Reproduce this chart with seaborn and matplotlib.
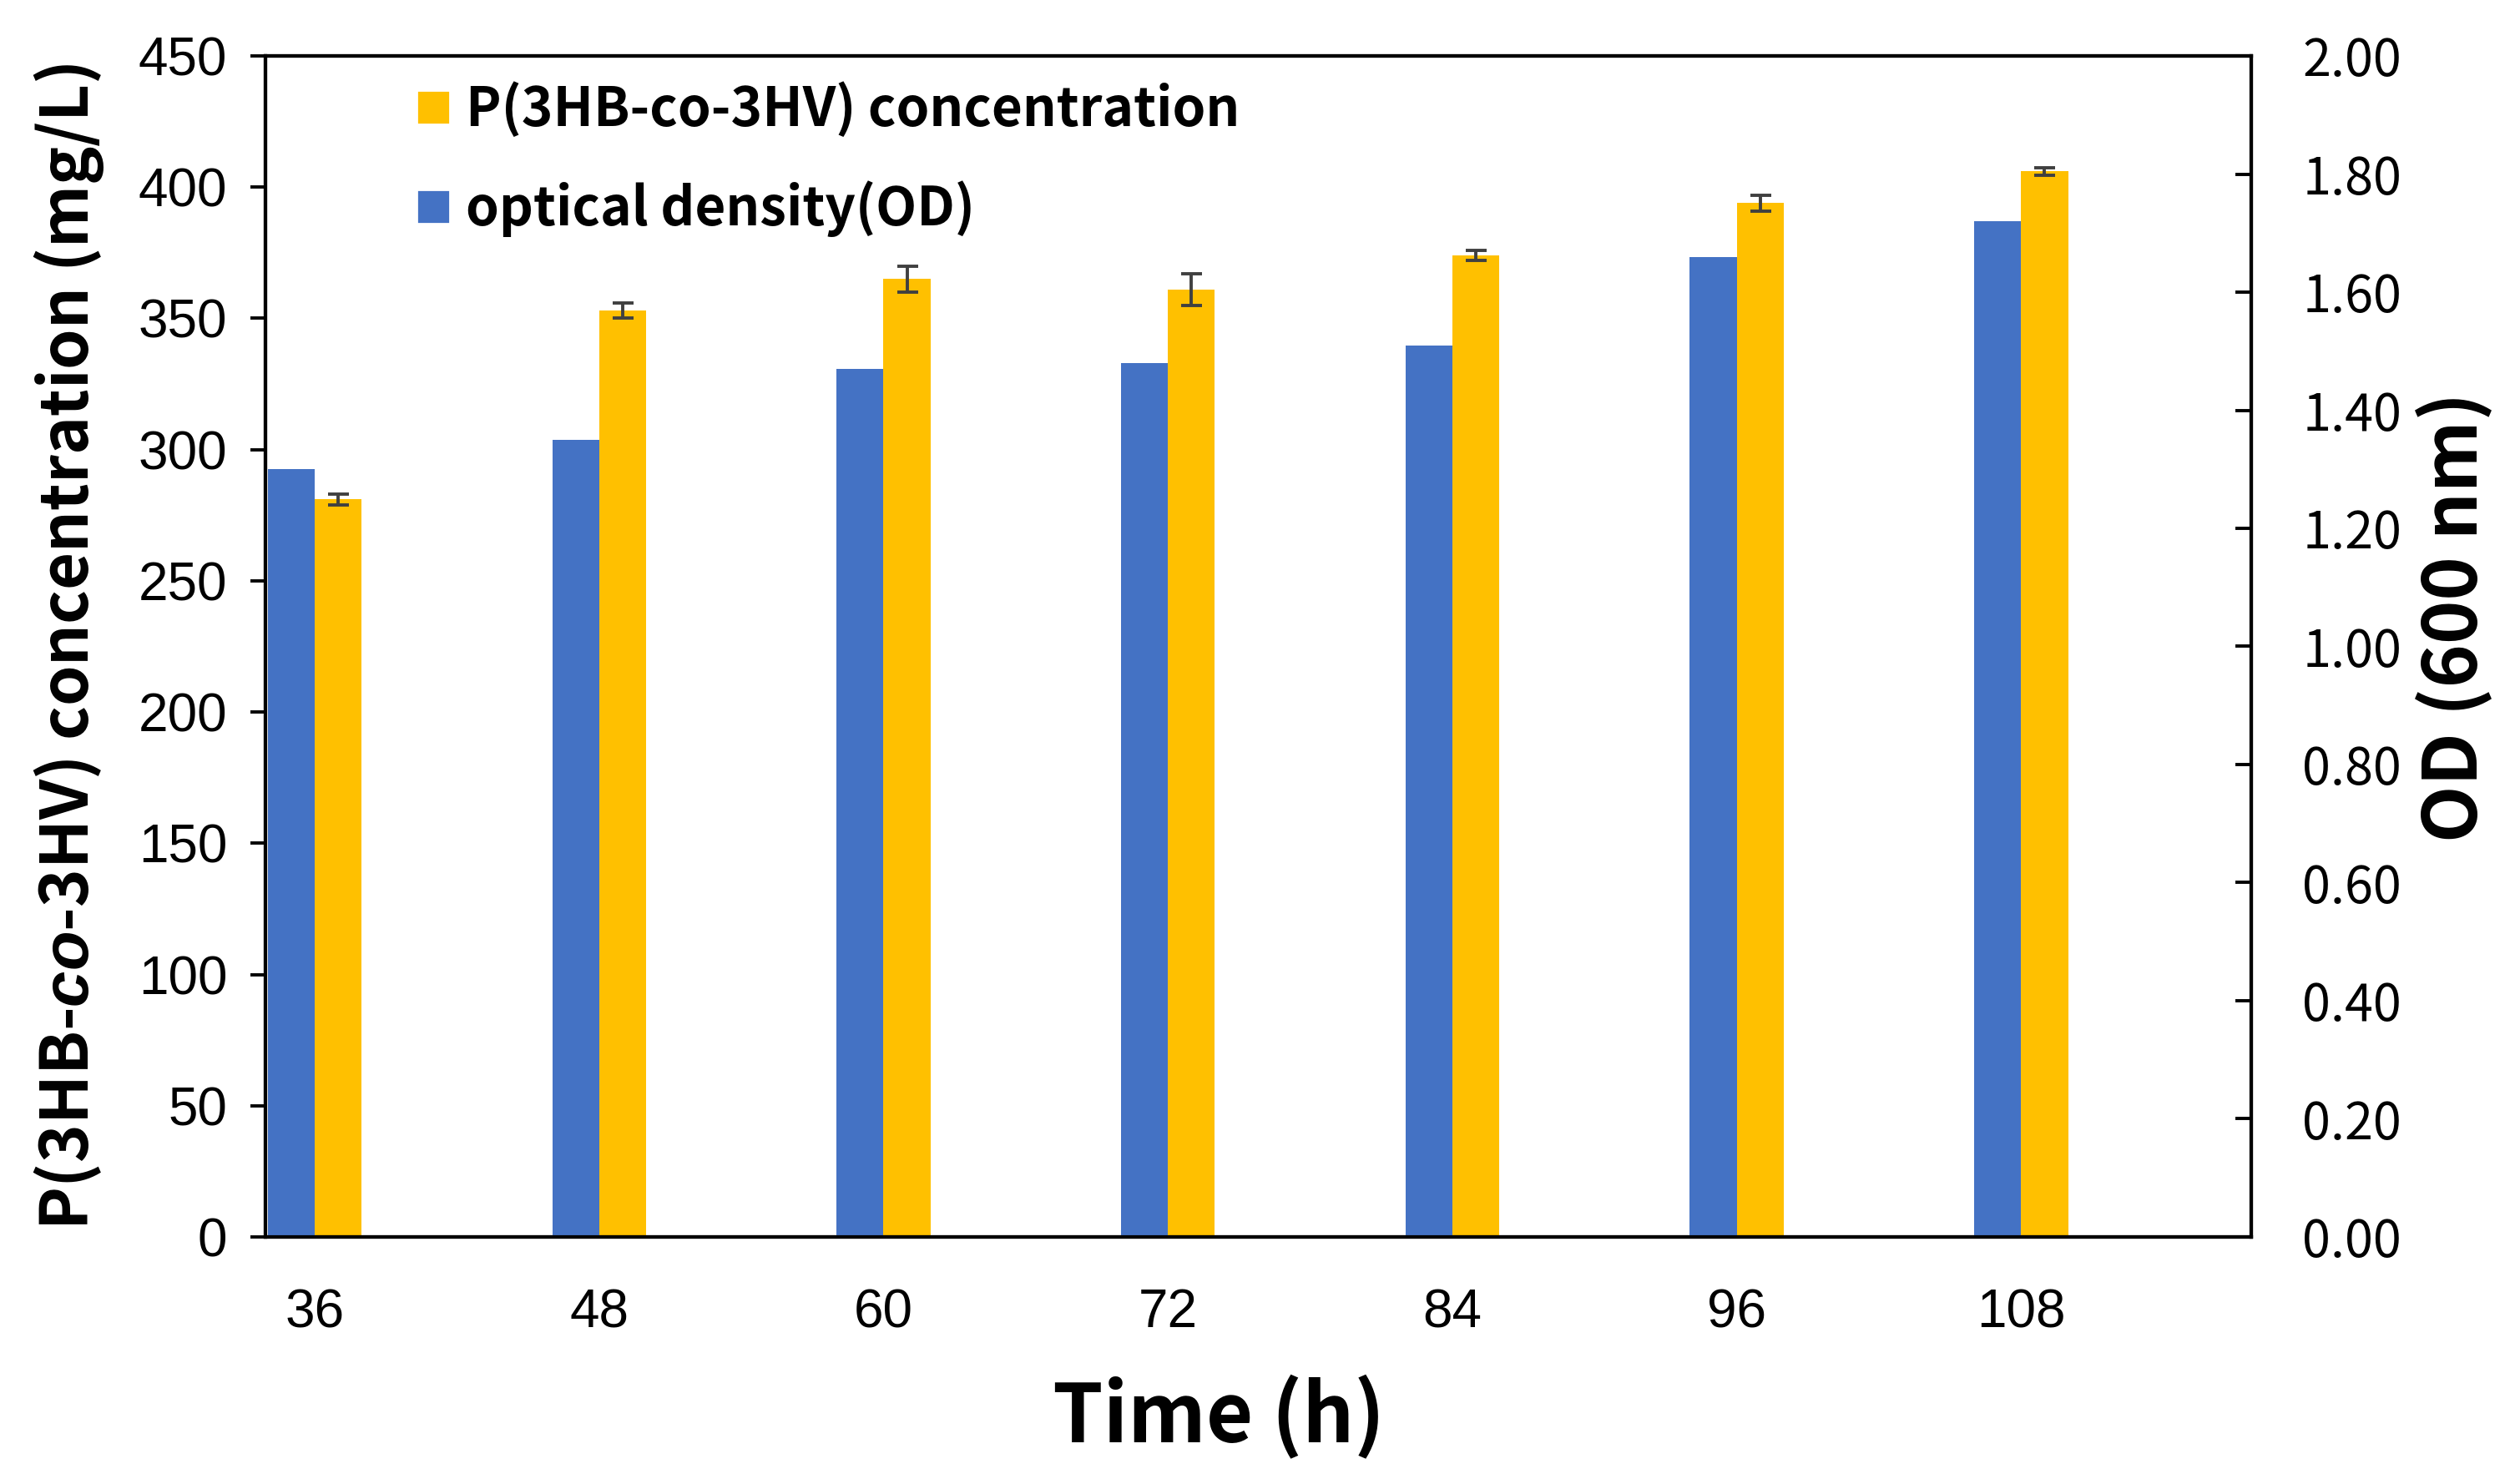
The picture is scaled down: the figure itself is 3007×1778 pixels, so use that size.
import numpy as np
import pandas as pd
import seaborn as sns
import matplotlib.pyplot as plt
from matplotlib.patches import Patch
from matplotlib.ticker import FormatStrFormatter

# values
time_h = ["36", "48", "60", "72", "84", "96", "108"]
phbv_conc = [281, 353, 365, 361, 374, 394, 406]      # mg/L
phbv_err = [2, 3, 5, 6, 2, 3, 1.5]
od600 = [1.30, 1.35, 1.47, 1.48, 1.51, 1.66, 1.72]

series = ["OD", "PHBV"]
colors = {"OD": "#4472C4", "PHBV": "#FFC000"}

df_conc = pd.DataFrame({"time": time_h, "value": phbv_conc, "series": "PHBV"})
df_od = pd.DataFrame({"time": time_h, "value": od600, "series": "OD"})

sns.set_theme(style="white")
plt.rcParams['font.family'] = ['Liberation Sans', 'Noto Sans CJK JP', 'DejaVu Sans']
plt.rcParams['mathtext.fontset'] = 'custom'
plt.rcParams['mathtext.it'] = 'Liberation Sans:italic:bold'
plt.rcParams['text.color'] = 'black'
plt.rcParams['axes.labelcolor'] = 'black'
cjk = ['Noto Sans CJK JP', 'DejaVu Sans']

fig, ax = plt.subplots(figsize=(15.035, 8.89), dpi=200)
fig.subplots_adjust(left=0.1058, right=0.897, bottom=0.1665, top=0.9623)
ax2 = ax.twinx()

# P(3HB-co-3HV) on the left axis, OD on the right axis
sns.barplot(data=df_conc, x="time", y="value", hue="series", hue_order=series,
            order=time_h, palette=colors, width=0.33, dodge=True, errorbar=None,
            saturation=1, legend=False, linewidth=0, ax=ax)
sns.barplot(data=df_od, x="time", y="value", hue="series", hue_order=series,
            order=time_h, palette=colors, width=0.33, dodge=True, errorbar=None,
            saturation=1, legend=False, linewidth=0, ax=ax2)

# error bars on the concentration bars
bars = [c for c in ax.containers if len(c) > 0][0]
xs = [p.get_x() + p.get_width() / 2 for p in bars]
hs = [p.get_height() for p in bars]
ax.errorbar(xs, hs, yerr=phbv_err, fmt='none', ecolor='#404040',
            elinewidth=1.4, capsize=4.5, capthick=1.4, zorder=5)

ax.set_xlim(-0.173, 6.81)
ax.set_ylim(0, 450)
ax.set_yticks(range(0, 451, 50))
ax2.set_ylim(0, 2.0)
ax2.set_yticks(np.arange(0, 2.01, 0.2))
ax2.yaxis.set_major_formatter(FormatStrFormatter('%.2f'))

for a in (ax, ax2):
    for s in a.spines.values():
        s.set_visible(True)
        s.set_color('black')
        s.set_linewidth(1.5)

ax.tick_params(axis='y', direction='out', length=6.5, width=1.4, pad=10,
               labelsize=23, colors='black', left=True)
ax.tick_params(axis='x', length=0, pad=22, labelsize=23, colors='black')
ax2.tick_params(axis='y', direction='in', length=7, width=1.4, pad=22,
                labelsize=22, colors='black', right=True)
for lab in ax2.get_yticklabels():
    lab.set_fontfamily(cjk)

ax.set_xlabel("Time (h)", fontsize=35, fontweight='bold', family=cjk, labelpad=16)
ax.xaxis.label.set_x(0.48)
ax.set_ylabel(r"P(3HB-$\mathit{co}$-3HV) concentration (mg/L)", fontsize=28,
              fontweight='bold', family=cjk, labelpad=14)
ax2.set_ylabel("OD (600 nm)", fontsize=32, fontweight='bold', family=cjk, labelpad=6)
ax2.yaxis.label.set_y(0.525)

handles = [Patch(facecolor=colors["PHBV"]), Patch(facecolor=colors["OD"])]
labels = ["P(3HB-co-3HV) concentration", "optical density(OD)"]
ax.legend(handles, labels, loc='upper left', bbox_to_anchor=(0.076, 0.978),
          borderaxespad=0, borderpad=0, frameon=False, handlelength=0.62,
          handleheight=0.62, handletextpad=0.3, labelspacing=0.8,
          prop={'family': cjk, 'weight': 'bold', 'size': 23})

plt.savefig('out.png', dpi=200)
